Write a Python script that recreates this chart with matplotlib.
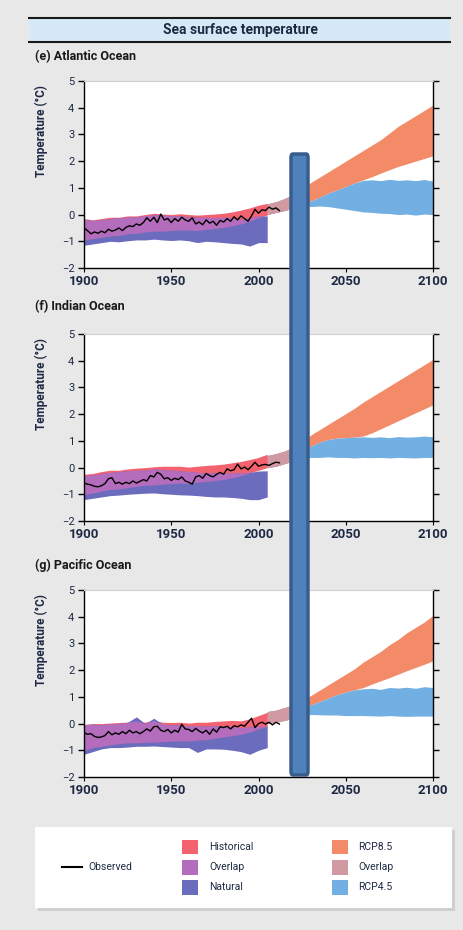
import numpy as np
import matplotlib
matplotlib.use("Agg")
import matplotlib.pyplot as plt
from matplotlib.patches import Rectangle, FancyBboxPatch
from matplotlib.lines import Line2D

plt.rcParams['font.family'] = ['Roboto', 'DejaVu Sans']

# ---- data ----
hist_years = np.arange(1900, 2006, 5)
obs_years = np.arange(1900, 2013, 2)
fut_years = np.array([2005, 2010, 2015, 2020, 2025, 2030, 2035, 2040, 2045, 2050,
                      2055, 2060, 2065, 2070, 2075, 2080, 2085, 2090, 2095, 2100])

# Atlantic
atl_hist_hi = [-0.15, -0.2, -0.15, -0.1, -0.1, -0.05, -0.05, 0.0, 0.05, 0.02, 0.0,
               0.03, 0.0, -0.02, 0.0, 0.02, 0.05, 0.1, 0.17, 0.25, 0.35, 0.42]
atl_hist_lo = [-0.95, -0.9, -0.85, -0.8, -0.78, -0.72, -0.7, -0.65, -0.62, -0.62, -0.6,
               -0.58, -0.58, -0.6, -0.55, -0.52, -0.48, -0.42, -0.35, -0.25, -0.12, -0.02]
atl_nat_hi = [-0.2, -0.22, -0.2, -0.15, -0.12, -0.1, -0.08, -0.05, 0.0, -0.02, -0.05,
              -0.05, -0.08, -0.1, -0.1, -0.12, -0.1, -0.12, -0.18, -0.12, -0.05, -0.05]
atl_nat_lo = [-1.15, -1.1, -1.05, -1.0, -1.02, -0.98, -0.95, -0.95, -0.92, -0.95, -0.97,
              -0.95, -0.98, -1.05, -1.0, -1.02, -1.05, -1.08, -1.1, -1.18, -1.05, -1.05]
atl_obs = [-0.5, -0.6, -0.72, -0.65, -0.7, -0.62, -0.68, -0.55, -0.62, -0.58, -0.5, -0.6,
           -0.48, -0.42, -0.45, -0.35, -0.4, -0.3, -0.12, -0.25, -0.1, -0.3, 0.02, -0.2,
           -0.15, -0.3, -0.15, -0.25, -0.1, -0.2, -0.25, -0.12, -0.35, -0.28, -0.38, -0.2,
           -0.32, -0.25, -0.4, -0.22, -0.28, -0.15, -0.25, -0.08, -0.2, -0.05, -0.15, -0.25,
           -0.05, 0.2, 0.05, 0.18, 0.15, 0.28, 0.2, 0.25, 0.15]
atl_rcp85_hi = [0.4, 0.48, 0.6, 0.75, 0.95, 1.2, 1.4, 1.6, 1.8, 2.0, 2.2, 2.4, 2.6, 2.8,
                3.05, 3.3, 3.5, 3.7, 3.9, 4.1]
atl_rcp85_lo = [0.0, 0.08, 0.15, 0.25, 0.35, 0.5, 0.65, 0.8, 0.92, 1.05, 1.18, 1.3, 1.42,
                1.55, 1.68, 1.8, 1.9, 2.0, 2.1, 2.2]
atl_rcp45_hi = [0.4, 0.48, 0.6, 0.75, 0.9, 0.5, 0.65, 0.8, 0.92, 1.05, 1.18, 1.28, 1.3,
                1.27, 1.32, 1.28, 1.3, 1.27, 1.31, 1.25]
atl_rcp45_lo = [0.0, 0.08, 0.15, 0.25, 0.35, 0.3, 0.32, 0.3, 0.25, 0.2, 0.15, 0.1, 0.08,
                0.05, 0.04, 0.0, 0.02, -0.02, 0.02, 0.0]

# Indian
ind_hist_hi = [-0.25, -0.22, -0.15, -0.1, -0.1, -0.05, -0.02, 0.0, 0.03, 0.05, 0.05,
               0.05, 0.02, 0.05, 0.08, 0.1, 0.13, 0.18, 0.23, 0.3, 0.38, 0.5]
ind_hist_lo = [-1.0, -0.95, -0.88, -0.82, -0.8, -0.75, -0.7, -0.66, -0.65, -0.62, -0.6,
               -0.58, -0.6, -0.55, -0.52, -0.48, -0.45, -0.38, -0.3, -0.2, -0.1, 0.0]
ind_nat_hi = [-0.3, -0.28, -0.22, -0.18, -0.15, -0.12, -0.1, -0.1, -0.05, -0.08, -0.1,
              -0.12, -0.15, -0.18, -0.2, -0.2, -0.22, -0.2, -0.2, -0.18, -0.13, -0.12]
ind_nat_lo = [-1.2, -1.15, -1.1, -1.05, -1.03, -1.0, -0.98, -0.96, -0.95, -0.98, -1.0,
              -1.02, -1.03, -1.05, -1.08, -1.1, -1.1, -1.12, -1.15, -1.2, -1.2, -1.1]
ind_obs = [-0.58, -0.62, -0.65, -0.7, -0.72, -0.68, -0.6, -0.42, -0.38, -0.6, -0.55, -0.62,
           -0.55, -0.6, -0.5, -0.58, -0.52, -0.45, -0.5, -0.3, -0.35, -0.18, -0.25, -0.42,
           -0.38, -0.48, -0.4, -0.45, -0.35, -0.5, -0.55, -0.62, -0.35, -0.3, -0.4, -0.22,
           -0.3, -0.35, -0.25, -0.18, -0.25, -0.05, -0.12, -0.08, 0.13, -0.05, 0.02, -0.08,
           0.05, 0.2, 0.05, 0.1, 0.12, 0.08, 0.15, 0.2, 0.18]
ind_rcp85_hi = [0.45, 0.52, 0.62, 0.78, 0.98, 1.22, 1.42, 1.62, 1.82, 2.02, 2.22, 2.45,
                2.65, 2.85, 3.05, 3.25, 3.45, 3.65, 3.85, 4.05]
ind_rcp85_lo = [0.0, 0.05, 0.15, 0.25, 0.32, 0.8, 0.95, 1.05, 1.1, 1.12, 1.14, 1.18, 1.3,
                1.45, 1.6, 1.75, 1.9, 2.05, 2.2, 2.35]
ind_rcp45_hi = [0.45, 0.52, 0.62, 0.72, 0.78, 0.8, 0.95, 1.05, 1.1, 1.12, 1.14, 1.15, 1.13,
                1.15, 1.12, 1.16, 1.14, 1.15, 1.18, 1.15]
ind_rcp45_lo = [0.0, 0.05, 0.15, 0.25, 0.32, 0.38, 0.38, 0.4, 0.38, 0.38, 0.36, 0.38, 0.37,
                0.38, 0.36, 0.38, 0.37, 0.36, 0.38, 0.38]

# Pacific
pac_hist_hi = [-0.03, 0.0, 0.0, 0.02, 0.04, 0.05, 0.1, 0.05, 0.12, 0.05, 0.04, 0.05, 0.02,
               0.05, 0.05, 0.08, 0.1, 0.12, 0.1, 0.18, 0.3, 0.42]
pac_hist_lo = [-1.0, -0.9, -0.85, -0.8, -0.75, -0.72, -0.72, -0.7, -0.7, -0.68, -0.66,
               -0.65, -0.65, -0.62, -0.6, -0.55, -0.5, -0.45, -0.4, -0.32, -0.2, -0.1]
pac_nat_hi = [-0.05, -0.02, -0.05, 0.0, 0.0, 0.05, 0.25, 0.0, 0.2, -0.02, -0.05, -0.05,
              -0.08, -0.08, -0.1, -0.08, -0.1, -0.12, -0.15, -0.12, -0.1, -0.1]
pac_nat_lo = [-1.15, -1.05, -0.95, -0.9, -0.9, -0.88, -0.85, -0.85, -0.84, -0.86, -0.88,
              -0.9, -0.9, -1.08, -0.95, -0.95, -0.96, -1.0, -1.05, -1.15, -1.0, -0.9]
pac_obs = [-0.34, -0.4, -0.38, -0.48, -0.52, -0.5, -0.45, -0.3, -0.42, -0.35, -0.4, -0.3,
           -0.38, -0.25, -0.35, -0.3, -0.38, -0.3, -0.2, -0.28, -0.12, -0.1, -0.25, -0.3,
           -0.22, -0.35, -0.25, -0.32, -0.03, -0.2, -0.22, -0.3, -0.18, -0.28, -0.35, -0.25,
           -0.4, -0.2, -0.32, -0.12, -0.15, -0.1, -0.2, -0.08, -0.12, -0.05, -0.1, 0.05,
           0.2, -0.15, 0.0, 0.05, -0.02, 0.05, -0.05, 0.05, -0.02]
pac_rcp85_hi = [0.45, 0.5, 0.6, 0.72, 0.88, 1.05, 1.25, 1.45, 1.65, 1.85, 2.05, 2.3, 2.5,
                2.7, 2.95, 3.15, 3.4, 3.6, 3.8, 4.05]
pac_rcp85_lo = [0.0, 0.05, 0.12, 0.2, 0.28, 0.7, 0.82, 0.95, 1.08, 1.18, 1.26, 1.35, 1.48,
                1.6, 1.72, 1.85, 1.98, 2.1, 2.22, 2.35]
pac_rcp45_hi = [0.45, 0.5, 0.6, 0.65, 0.68, 0.7, 0.82, 0.95, 1.08, 1.18, 1.26, 1.3, 1.32,
                1.28, 1.35, 1.33, 1.36, 1.32, 1.38, 1.35]
pac_rcp45_lo = [0.0, 0.05, 0.12, 0.2, 0.28, 0.34, 0.33, 0.32, 0.32, 0.3, 0.3, 0.3, 0.29,
                0.28, 0.3, 0.28, 0.27, 0.28, 0.28, 0.28]

panel_titles = ['(e) Atlantic Ocean', '(f) Indian Ocean', '(g) Pacific Ocean']
x_ticks = [1900, 1950, 2000, 2050, 2100]
y_ticks = [-2, -1, 0, 1, 2, 3, 4, 5]

C_HIST = '#f2636f'
C_NAT = '#6b6cbd'
C_OVL_H = '#b46cbc'
C_RCP85 = '#f38b69'
C_RCP45 = '#72afe2'
C_OVL_F = '#d19aa2'
BG = '#e8e8e9'
NAVY = '#1e2a44'


def band_pair(ax, x, lo1, hi1, lo2, hi2, c1, c2, c_ovl):
    lo1, hi1, lo2, hi2 = map(np.asarray, (lo1, hi1, lo2, hi2))
    ax.fill_between(x, lo1, hi1, color=c1, lw=0)
    ax.fill_between(x, lo2, hi2, color=c2, lw=0)
    lo = np.maximum(lo1, lo2)
    hi = np.minimum(hi1, hi2)
    ax.fill_between(x, lo, hi, where=hi > lo + 1e-6, interpolate=True, color=c_ovl, lw=0)


def draw_panel(ax, hist_hi, hist_lo, nat_hi, nat_lo, obs, r85_hi, r85_lo, r45_hi, r45_lo):
    band_pair(ax, fut_years, r85_lo, r85_hi, r45_lo, r45_hi, C_RCP85, C_RCP45, C_OVL_F)
    band_pair(ax, hist_years, hist_lo, hist_hi, nat_lo, nat_hi, C_HIST, C_NAT, C_OVL_H)
    ax.plot(obs_years, obs, color='black', lw=1.0)

    ax.set_xlim(1900, 2100)
    ax.set_ylim(-2, 5)
    ax.set_xticks(x_ticks)
    ax.set_yticks(y_ticks)
    ax.set_xticklabels([str(t) for t in x_ticks], fontsize=9.5, fontweight='bold', color=NAVY)
    ax.set_yticklabels(['\u2212' + str(-t) if t < 0 else str(t) for t in y_ticks],
                       fontsize=8, color=NAVY)
    ax.tick_params(axis='y', which='both', direction='out', length=4, width=1,
                   right=True, labelright=False, pad=3)
    ax.tick_params(axis='x', direction='out', length=3, width=0.8, pad=2)
    ax.set_ylabel('Temperature (\u00b0C)', fontsize=8.5, fontweight='bold', color=NAVY)
    ax.yaxis.set_label_coords(-0.103, 0.73)
    for s in ('left', 'bottom', 'right'):
        ax.spines[s].set_color('black')
        ax.spines[s].set_linewidth(1.0)
    ax.spines['top'].set_color('#d0d0d0')
    ax.set_facecolor('white')


fig = plt.figure(figsize=(4.64, 9.30), dpi=100, facecolor=BG)
W, H = 464.0, 930.0

# header band
fig.add_artist(Rectangle((29 / W, 1 - 42 / H), (450 - 29) / W, 24 / H,
                         transform=fig.transFigure, facecolor='#d5eaf6', edgecolor='none'))
for yy in (18, 42):
    fig.add_artist(Line2D([29 / W, 450 / W], [1 - yy / H, 1 - yy / H],
                          transform=fig.transFigure, color='#1a1a1a', lw=1.5))
fig.text(240 / W, 1 - 30 / H, 'Sea surface temperature', ha='center', va='center',
         fontsize=10, fontweight='bold', color=NAVY)

panel_tops = [81, 334, 590]
title_ys = [57, 307, 565]
panels = [
    (atl_hist_hi, atl_hist_lo, atl_nat_hi, atl_nat_lo, atl_obs,
     atl_rcp85_hi, atl_rcp85_lo, atl_rcp45_hi, atl_rcp45_lo),
    (ind_hist_hi, ind_hist_lo, ind_nat_hi, ind_nat_lo, ind_obs,
     ind_rcp85_hi, ind_rcp85_lo, ind_rcp45_hi, ind_rcp45_lo),
    (pac_hist_hi, pac_hist_lo, pac_nat_hi, pac_nat_lo, pac_obs,
     pac_rcp85_hi, pac_rcp85_lo, pac_rcp45_hi, pac_rcp45_lo),
]

for top, ty, title, data in zip(panel_tops, title_ys, panel_titles, panels):
    ax = fig.add_axes([84 / W, 1 - (top + 187) / H, 349 / W, 187 / H])
    draw_panel(ax, *data)
    fig.text(35 / W, 1 - ty / H, title, ha='left', va='center', fontsize=9,
             fontweight='bold', color='#1a1a1a')

# legend box with shadow
lx, ly, lw_, lh = 35 / W, 1 - 908 / H, 417 / W, 81 / H
fig.add_artist(Rectangle((lx + 3 / W, ly - 3 / H), lw_, lh, transform=fig.transFigure,
                         facecolor='#cfcfd2', edgecolor='none'))
lax = fig.add_axes([lx, ly, lw_, lh], zorder=2)
lax.set_facecolor('white')
lax.set_xlim(0, 1)
lax.set_ylim(0, 1)
lax.set_xticks([])
lax.set_yticks([])
for s in lax.spines.values():
    s.set_visible(False)

lax.plot([0.065, 0.113], [0.506, 0.506], color='black', lw=1.5)
lax.text(0.129, 0.506, 'Observed', va='center', ha='left', fontsize=7.5, color=NAVY)
rows = [0.753, 0.506, 0.259]
left_items = [('Historical', C_HIST), ('Overlap', C_OVL_H), ('Natural', C_NAT)]
right_items = [('RCP8.5', C_RCP85), ('Overlap', C_OVL_F), ('RCP4.5', C_RCP45)]
for col_x, items in ((0.353, left_items), (0.712, right_items)):
    for yy, (lab, col) in zip(rows, items):
        lax.add_patch(Rectangle((col_x, yy - 0.0925), 0.038, 0.185, facecolor=col,
                                edgecolor='none'))
        lax.text(col_x + 0.064, yy, lab, va='center', ha='left', fontsize=7.5, color=NAVY)

# vertical blue marker bar drawn over the panels
fig.add_artist(FancyBboxPatch((291 / W, 1 - 775 / H), 17 / W, 621 / H,
                              boxstyle='round,pad=0,rounding_size=0.004',
                              transform=fig.transFigure, facecolor='#4f81bd',
                              edgecolor='#385d8a', lw=2.5, zorder=5))

fig.savefig('out.png', dpi=100, facecolor=BG)
